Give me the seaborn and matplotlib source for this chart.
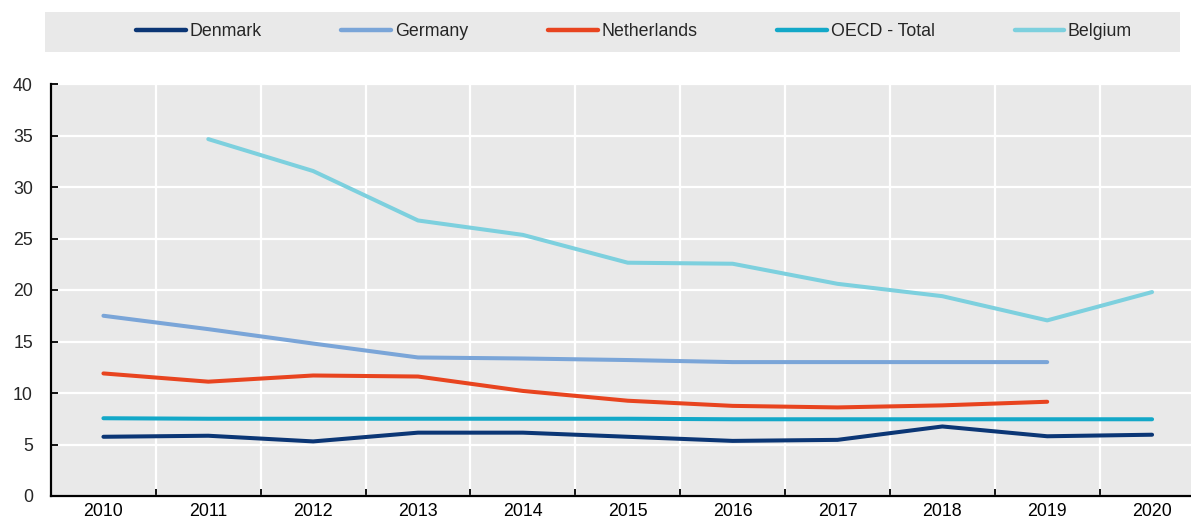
import matplotlib
matplotlib.use("Agg")
import matplotlib.pyplot as plt
import matplotlib.patches as mpatches
from matplotlib.lines import Line2D
import numpy as np
import pandas as pd
import seaborn as sns

years = [2010, 2011, 2012, 2013, 2014, 2015, 2016, 2017, 2018, 2019, 2020]
denmark = [5.75, 5.85, 5.3, 6.15, 6.15, 5.75, 5.35, 5.45, 6.75, 5.8, 5.95]
germany = [17.5, 16.2, 14.8, 13.45, 13.35, 13.2, 13.0, 13.0, 13.0, 13.0, np.nan]
netherlands = [11.9, 11.1, 11.7, 11.6, 10.2, 9.25, 8.75, 8.6, 8.8, 9.15, np.nan]
oecd_total = [7.55, 7.5, 7.5, 7.5, 7.5, 7.5, 7.45, 7.45, 7.45, 7.45, 7.45]
belgium = [np.nan, 34.65, 31.55, 26.75, 25.35, 22.65, 22.55, 20.6, 19.4, 17.05, 19.8]

series_names = ["Denmark", "Germany", "Netherlands", "OECD - Total", "Belgium"]
series_values = [denmark, germany, netherlands, oecd_total, belgium]
colors = ["#0b3675", "#7aa5d8", "#e8441f", "#13a8c8", "#7dd0de"]
y_ticks = [0, 5, 10, 15, 20, 25, 30, 35, 40]

rows = []
for name, vals in zip(series_names, series_values):
    for yr, v in zip(years, vals):
        rows.append({"year": yr, "value": v, "series": name})
df = pd.DataFrame(rows).dropna()

sns.set_theme(style="white")
FONT = ["Liberation Sans", "DejaVu Sans"]
plt.rcParams["font.family"] = FONT

W, H = 1191, 520
fig = plt.figure(figsize=(W / 100, H / 100), dpi=100)
ax = fig.add_axes([51 / W, 24 / H, 1153.5 / W, 412 / H])
ax.set_facecolor("#e9e9e9")

palette = dict(zip(series_names, colors))
sns.lineplot(data=df, x="year", y="value", hue="series", hue_order=series_names,
             palette=palette, linewidth=2.9, ax=ax, legend=False, zorder=3)
for ln in ax.get_lines():
    ln.set_solid_capstyle("round")

ax.set_xlim(years[0] - 0.5, years[-1] + 0.5)
ax.set_ylim(0, 40)
ax.set_yticks(y_ticks)
ax.set_xticks(years)
ax.set_xticklabels([str(y) for y in years])
ax.set_xticks([y + 0.5 for y in years[:-1]] + [years[0] - 0.5], minor=True)
ax.set_xlabel("")
ax.set_ylabel("")

ax.grid(True, axis="y", which="major", color="white", linewidth=1.6, zorder=0)
ax.grid(True, axis="x", which="minor", color="white", linewidth=1.6, zorder=0)
ax.grid(False, axis="x", which="major")
ax.set_axisbelow(True)

for s in ["top", "right"]:
    ax.spines[s].set_visible(False)
for s in ["left", "bottom"]:
    ax.spines[s].set_color("black")
    ax.spines[s].set_linewidth(1.6)

ax.tick_params(axis="x", which="major", length=0, pad=5, labelsize=12.8, colors="black")
ax.tick_params(axis="x", which="minor", direction="in", length=5, width=1.3, color="black", bottom=True)
ax.tick_params(axis="y", which="major", direction="in", length=5, width=1.3, color="black",
               pad=13, labelsize=12.8, left=True)

# legend band
band = mpatches.Rectangle((45 / W, 1 - 52 / H), 1135 / W, 40 / H, transform=fig.transFigure,
                          facecolor="#e9e9e9", edgecolor="none", zorder=0)
fig.patches.append(band)
handles = [Line2D([0], [0], color=c, linewidth=3.2, solid_capstyle="round") for c in colors]
leg = fig.legend(handles, series_names, loc="center", bbox_to_anchor=(634 / W, 1 - 32 / H),
                 ncol=5, frameon=False, handlelength=2.8, handletextpad=0.2,
                 columnspacing=4.5, prop={"family": FONT, "size": 12.8})

fig.savefig("out.png", dpi=100)
